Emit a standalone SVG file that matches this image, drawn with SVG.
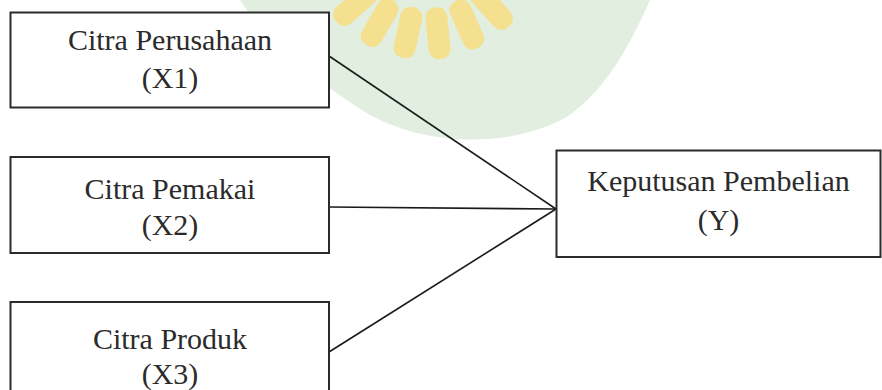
<svg xmlns="http://www.w3.org/2000/svg" width="882" height="390" viewBox="0 0 882 390">
<style>
.box{fill:#ffffff;stroke:#2b2b2b;stroke-width:2}
.lbl{font-family:"Liberation Serif","Times New Roman",serif;font-size:30px;fill:#2b2b2b;text-anchor:middle}
.con{stroke:#1a1a1a;stroke-width:1.6;fill:none}
.wm{fill:#e1eee0}
.tooth{fill:#f4e08e}
</style>
<rect width="882" height="390" fill="#ffffff"/>
<g id="watermark">
<path class="wm" d="M240,0 C265,40 315,80 365,112 C420,145 505,150 565,118 C605,92 630,45 650,0 Z"/>
<g transform="translate(425,-62)">
<rect class="tooth" x="-8" y="70" width="22" height="52" rx="10" transform="rotate(48)"/>
<rect class="tooth" x="-8" y="70" width="22" height="52" rx="10" transform="rotate(30)"/>
<rect class="tooth" x="-8" y="70" width="22" height="52" rx="10" transform="rotate(12)"/>
<rect class="tooth" x="-8" y="70" width="22" height="52" rx="10" transform="rotate(-6)"/>
<rect class="tooth" x="-8" y="70" width="22" height="52" rx="10" transform="rotate(-24)"/>
<rect class="tooth" x="-8" y="70" width="22" height="52" rx="10" transform="rotate(-42)"/>
</g>
</g>
<g id="connectors">
<line class="con" x1="329" y1="56" x2="556" y2="209"/>
<line class="con" x1="329" y1="207" x2="556" y2="209"/>
<line class="con" x1="329" y1="352" x2="556" y2="209"/>
</g>
<g id="x1">
<rect class="box" x="10.5" y="12.5" width="318.5" height="95"/>
<text class="lbl" x="170" y="50">Citra Perusahaan</text>
<text class="lbl" x="170" y="88">(X1)</text>
</g>
<g id="x2">
<rect class="box" x="10.5" y="157" width="318.5" height="96"/>
<text class="lbl" x="170" y="199">Citra Pemakai</text>
<text class="lbl" x="170" y="235">(X2)</text>
</g>
<g id="x3">
<rect class="box" x="10.5" y="302" width="318.5" height="96"/>
<text class="lbl" x="170" y="349">Citra Produk</text>
<text class="lbl" x="170" y="384">(X3)</text>
</g>
<g id="y">
<rect class="box" x="556.5" y="150.5" width="324" height="106.5"/>
<text class="lbl" x="718.5" y="191">Keputusan Pembelian</text>
<text class="lbl" x="718.5" y="230">(Y)</text>
</g>
</svg>
